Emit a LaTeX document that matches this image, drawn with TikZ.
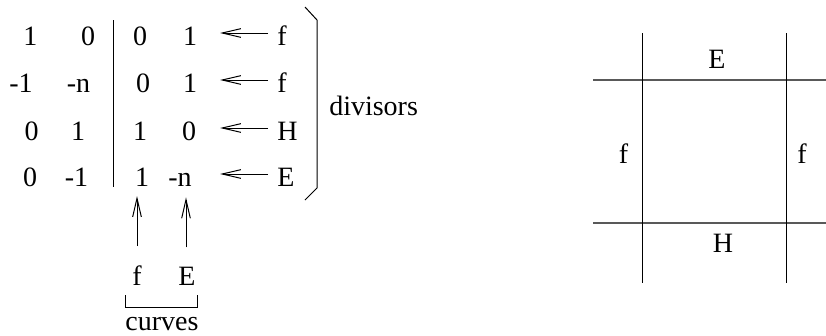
\documentclass[tikz,border=0pt]{standalone}
\usepackage{fontspec}
\setmainfont{Liberation Serif}
\usetikzlibrary{arrows.meta}
\tikzset{
  txt/.style={inner sep=0pt, anchor=base, font=\fontsize{21pt}{25pt}\selectfont},
  lab/.style={txt, anchor=base west, text height=18pt, text depth=0pt},
  arr/.style={line width=0.75pt, -{Straight Barb[length=14pt,width=6.5pt]}},
  thin/.style={line width=0.75pt},
  hline/.style={line width=1.2pt, black!65},
}
\begin{document}
\begin{tikzpicture}[x=0.75pt,y=-0.75pt]
\useasboundingbox (0,0) rectangle (826,336);
% matrix entries
\node[txt] (a11) at (30.5,45) {1};
\node[txt] (a12) at (88,45) {0};
\node[txt] (a13) at (140,45) {0};
\node[txt] (a14) at (190,45) {1};
\node[txt] (a21) at (21,92) {-1};
\node[txt] (a22) at (78.5,92) {-n};
\node[txt] (a23) at (143,92) {0};
\node[txt] (a24) at (190,92) {1};
\node[txt] (a31) at (31.5,140) {0};
\node[txt] (a32) at (78,140) {1};
\node[txt] (a33) at (140,140) {1};
\node[txt] (a34) at (189,140) {0};
\node[txt] (a41) at (30,186) {0};
\node[txt] (a42) at (76.5,186) {-1};
\node[txt] (a43) at (142,186) {1};
\node[txt] (a44) at (180,186) {-n};
% separator
\coordinate (sepT) at (113,20);
\coordinate (sepB) at (113,187);
\draw[thin] (sepT) -- (sepB);
% row labels
\node[lab] (l1) at (277,45) {f};
\node[lab] (l2) at (277,92) {f};
\node[lab] (l3) at (277,140) {H};
\node[lab] (l4) at (277,186) {E};
\foreach \i in {1,2,3,4}
  \draw[arr] (l\i.west) ++(-9,0) -- ++(-48,0);
% right bracket
\coordinate (b1) at (305,7);
\coordinate (b2) at (317,20);
\coordinate (b3) at (317,188);
\coordinate (b4) at (305,200);
\draw[thin] (b1) -- (b2) -- (b3) -- (b4);
\node[txt, anchor=base west] (div) at (329,115) {divisors};
% column labels
\node[txt] (cf) at (137,285) {f};
\node[txt] (cE) at (187,285) {E};
\draw[arr] (cf.north) ++(0,-19) -- ++(0,-50);
\draw[arr] (cE.north -| 186,0) ++(0,-19) -- ++(0,-50);
% curves bracket
\coordinate (c1) at (125,295);
\coordinate (c2) at (125,307.5);
\coordinate (c3) at (197.5,307.5);
\coordinate (c4) at (197.5,295);
\draw[thin] (c1) -- (c2) -- (c3) -- (c4);
\node[txt] (curves) at (162,330.5) {curves};
% right grid
\draw[hline] (593,80) -- (826,80);
\draw[hline] (593,223) -- (826,223);
\draw[thin] (642,33) -- (642,283);
\draw[thin] (786,33) -- (786,283);
\node[txt] (gE) at (717,68) {E};
\node[txt] (gfl) at (623.5,163) {f};
\node[txt] (gfr) at (802,163) {f};
\node[txt] (gH) at (723,252) {H};
\end{tikzpicture}
\end{document}
